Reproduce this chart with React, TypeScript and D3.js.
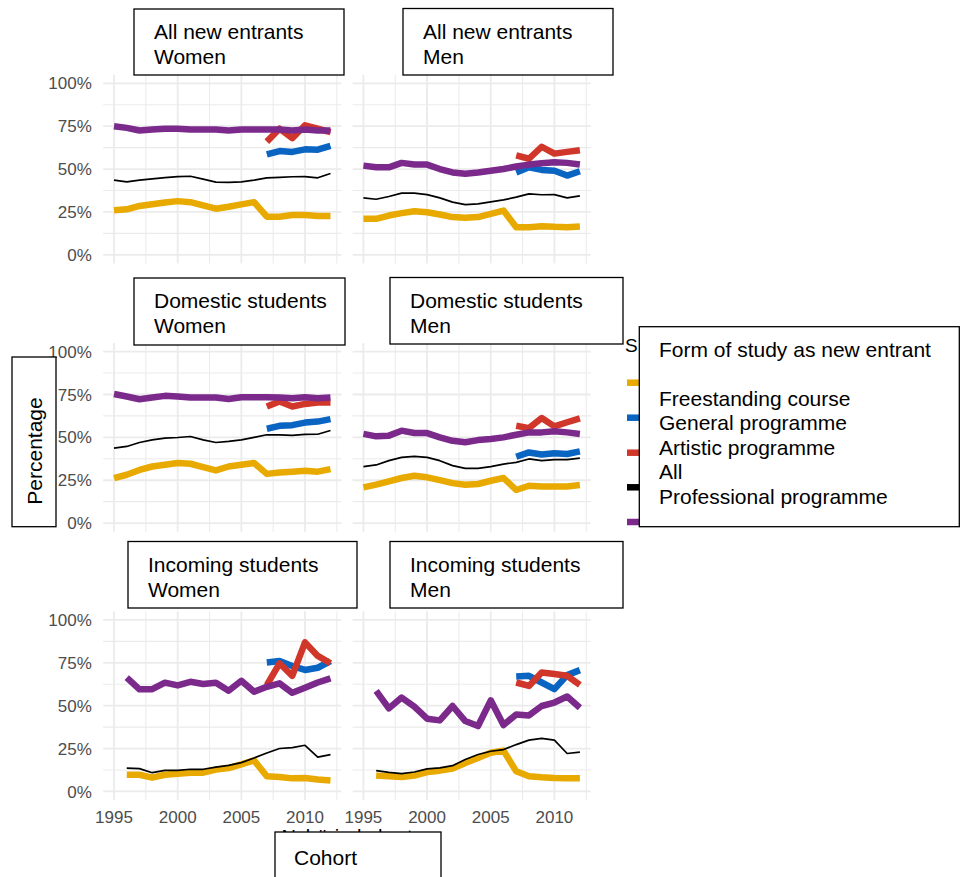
import React from "react";
import * as d3 from "d3";

// Cohort years on the x axis
const years = [1995, 1996, 1997, 1998, 1999, 2000, 2001, 2002, 2003, 2004, 2005, 2006, 2007, 2008, 2009, 2010, 2011, 2012];

const seriesNames = ["Freestanding course", "General programme", "Artistic programme", "All", "Professional programme"];
const seriesColors = ["#E8A900", "#0A64C2", "#D1362B", "#000000", "#7B2A8C"];
const seriesWidths = [6.5, 6.5, 6.5, 1.7, 6.5];

const xTicks = [1995, 2000, 2005, 2010];
const xMinor = [1997.5, 2002.5, 2007.5, 2012.5];
const yTicks = [0, 0.25, 0.5, 0.75, 1];
const yMinor = [0.125, 0.375, 0.625, 0.875];

const N = null;

// All new entrants – women
const allWomenFree = [0.26, 0.265, 0.285, 0.295, 0.305, 0.313, 0.307, 0.288, 0.269, 0.28, 0.294, 0.307, 0.222, 0.222, 0.232, 0.232, 0.226, 0.226];
const allWomenGeneral = [N, N, N, N, N, N, N, N, N, N, N, N, 0.585, 0.605, 0.6, 0.615, 0.613, 0.635];
const allWomenArtistic = [N, N, N, N, N, N, N, N, N, N, N, N, 0.66, 0.735, 0.68, 0.755, 0.735, 0.715];
const allWomenAll = [0.435, 0.425, 0.435, 0.443, 0.45, 0.456, 0.458, 0.441, 0.424, 0.422, 0.425, 0.435, 0.449, 0.452, 0.455, 0.456, 0.449, 0.474];
const allWomenProf = [0.75, 0.74, 0.725, 0.73, 0.735, 0.735, 0.73, 0.73, 0.73, 0.725, 0.73, 0.73, 0.73, 0.73, 0.725, 0.73, 0.725, 0.725];

// All new entrants – men
const allMenFree = [0.21, 0.21, 0.229, 0.243, 0.254, 0.248, 0.235, 0.22, 0.216, 0.22, 0.239, 0.258, 0.161, 0.161, 0.167, 0.163, 0.161, 0.165];
const allMenGeneral = [N, N, N, N, N, N, N, N, N, N, N, N, 0.48, 0.51, 0.495, 0.49, 0.462, 0.487];
const allMenArtistic = [N, N, N, N, N, N, N, N, N, N, N, N, 0.58, 0.56, 0.63, 0.59, 0.6, 0.61];
const allMenAll = [0.332, 0.324, 0.34, 0.36, 0.36, 0.351, 0.332, 0.307, 0.293, 0.297, 0.309, 0.32, 0.336, 0.355, 0.35, 0.351, 0.332, 0.344];
const allMenProf = [0.52, 0.51, 0.51, 0.536, 0.526, 0.526, 0.5, 0.48, 0.472, 0.48, 0.49, 0.5, 0.515, 0.526, 0.534, 0.54, 0.536, 0.526];

// Domestic students – women
const domWomenFree = [0.262, 0.282, 0.31, 0.33, 0.34, 0.35, 0.346, 0.326, 0.307, 0.33, 0.34, 0.35, 0.287, 0.295, 0.3, 0.305, 0.3, 0.315];
const domWomenGeneral = [N, N, N, N, N, N, N, N, N, N, N, N, 0.55, 0.567, 0.571, 0.586, 0.592, 0.606];
const domWomenArtistic = [N, N, N, N, N, N, N, N, N, N, N, N, 0.68, 0.709, 0.68, 0.695, 0.703, 0.703];
const domWomenAll = [0.437, 0.447, 0.47, 0.485, 0.495, 0.499, 0.505, 0.485, 0.47, 0.476, 0.485, 0.5, 0.515, 0.515, 0.511, 0.517, 0.518, 0.54];
const domWomenProf = [0.753, 0.738, 0.722, 0.732, 0.742, 0.738, 0.732, 0.732, 0.732, 0.724, 0.734, 0.734, 0.734, 0.732, 0.728, 0.734, 0.728, 0.732];

// Domestic students – men
const domMenFree = [0.208, 0.224, 0.243, 0.263, 0.276, 0.267, 0.251, 0.233, 0.224, 0.228, 0.247, 0.263, 0.193, 0.218, 0.214, 0.214, 0.214, 0.222];
const domMenGeneral = [N, N, N, N, N, N, N, N, N, N, N, N, 0.387, 0.412, 0.4, 0.407, 0.403, 0.418];
const domMenArtistic = [N, N, N, N, N, N, N, N, N, N, N, N, 0.568, 0.554, 0.613, 0.564, 0.588, 0.611];
const domMenAll = [0.329, 0.339, 0.364, 0.383, 0.389, 0.383, 0.364, 0.335, 0.319, 0.319, 0.329, 0.344, 0.354, 0.374, 0.364, 0.37, 0.37, 0.379];
const domMenProf = [0.52, 0.506, 0.51, 0.539, 0.525, 0.525, 0.5, 0.48, 0.471, 0.484, 0.49, 0.5, 0.515, 0.529, 0.529, 0.535, 0.529, 0.52];

// Incoming students – women
const incWomenFree = [N, 0.097, 0.097, 0.08, 0.097, 0.103, 0.109, 0.109, 0.127, 0.136, 0.158, 0.181, 0.088, 0.084, 0.076, 0.078, 0.07, 0.064];
const incWomenGeneral = [N, N, N, N, N, N, N, N, N, N, N, N, 0.752, 0.76, 0.731, 0.708, 0.721, 0.76];
const incWomenArtistic = [N, N, N, N, N, N, N, N, N, N, N, N, 0.62, 0.747, 0.674, 0.869, 0.79, 0.747];
const incWomenAll = [N, 0.136, 0.133, 0.109, 0.123, 0.123, 0.129, 0.129, 0.142, 0.152, 0.168, 0.195, 0.224, 0.25, 0.255, 0.269, 0.2, 0.214];
const incWomenProf = [N, 0.663, 0.595, 0.596, 0.634, 0.618, 0.639, 0.626, 0.634, 0.587, 0.645, 0.581, 0.61, 0.63, 0.575, 0.604, 0.635, 0.659];

// Incoming students – men
const incMenFree = [N, 0.092, 0.088, 0.084, 0.092, 0.113, 0.121, 0.133, 0.166, 0.195, 0.225, 0.238, 0.117, 0.088, 0.082, 0.078, 0.076, 0.076];
const incMenGeneral = [N, N, N, N, N, N, N, N, N, N, N, N, 0.67, 0.674, 0.635, 0.596, 0.678, 0.707];
const incMenArtistic = [N, N, N, N, N, N, N, N, N, N, N, N, 0.635, 0.615, 0.693, 0.684, 0.674, 0.621];
const incMenAll = [N, 0.121, 0.111, 0.104, 0.113, 0.131, 0.137, 0.15, 0.186, 0.215, 0.234, 0.244, 0.273, 0.299, 0.309, 0.299, 0.221, 0.229];
const incMenProf = [N, 0.586, 0.484, 0.547, 0.494, 0.424, 0.414, 0.498, 0.41, 0.381, 0.531, 0.387, 0.449, 0.443, 0.498, 0.518, 0.553, 0.488];

const panelTitles = [
  ["All new entrants", "Women"],
  ["All new entrants", "Men"],
  ["Domestic students", "Women"],
  ["Domestic students", "Men"],
  ["Incoming students", "Women"],
  ["Incoming students", "Men"],
];

const panelData = [
  [allWomenFree, allWomenGeneral, allWomenArtistic, allWomenAll, allWomenProf],
  [allMenFree, allMenGeneral, allMenArtistic, allMenAll, allMenProf],
  [domWomenFree, domWomenGeneral, domWomenArtistic, domWomenAll, domWomenProf],
  [domMenFree, domMenGeneral, domMenArtistic, domMenAll, domMenProf],
  [incWomenFree, incWomenGeneral, incWomenArtistic, incWomenAll, incWomenProf],
  [incMenFree, incMenGeneral, incMenArtistic, incMenAll, incMenProf],
];

const FONT = "'Liberation Sans', Arial, Helvetica, sans-serif";
const W = 966;
const H = 877;

// panel geometry (ggplot-like facet grid, 3 rows x 2 cols)
const colX = [
  [103.2, 341.3],
  [352.6, 590.7],
];
const rowZero = [254.8, 523.1, 791.4];
const unit = 171.5;

// overlay label boxes placed on the facet strips
const titleBoxes = [
  { x: 134, y: 9, w: 210, h: 66, tx: 154, ty: 38.5 },
  { x: 403, y: 8.5, w: 210, h: 66.5, tx: 423, ty: 38.5 },
  { x: 134, y: 278, w: 211, h: 67, tx: 154, ty: 308 },
  { x: 390, y: 277.5, w: 233, h: 66.5, tx: 410, ty: 307.5 },
  { x: 128, y: 541.5, w: 229, h: 66.5, tx: 148, ty: 571.5 },
  { x: 390, y: 541.5, w: 233, h: 66.5, tx: 410, ty: 571.5 },
];

const legendKeyY = [382.7, 417.7, 452.7, 487.3, 522];
const legendLines = ["Form of study as new entrant", "", ...seriesNames];

function Panel({ idx }: { idx: number }) {
  const col = idx % 2;
  const row = Math.floor(idx / 2);
  const x = d3.scaleLinear().domain([1994.15, 2012.85]).range(colX[col]);
  const y0 = rowZero[row];
  const y = d3.scaleLinear().domain([-0.05, 1.05]).range([y0 + 0.05 * unit, y0 - 1.05 * unit]);
  const [xl, xr] = x.range();
  const [yb, yt] = y.range();
  const fmt = d3.format(".0%");

  const line = d3
    .line<number | null>()
    .defined((d) => d != null)
    .x((_, i) => x(years[i]))
    .y((d) => y(d as number));

  return (
    <g>
      {yMinor.map((t) => (
        <line key={"ym" + t} x1={xl} x2={xr} y1={y(t)} y2={y(t)} stroke="#EBEBEB" strokeWidth={1.1} />
      ))}
      {xMinor.map((t) => (
        <line key={"xm" + t} x1={x(t)} x2={x(t)} y1={yb} y2={yt} stroke="#EBEBEB" strokeWidth={1.1} />
      ))}
      {yTicks.map((t) => (
        <line key={"y" + t} x1={xl} x2={xr} y1={y(t)} y2={y(t)} stroke="#EBEBEB" strokeWidth={1.8} />
      ))}
      {xTicks.map((t) => (
        <line key={"x" + t} x1={x(t)} x2={x(t)} y1={yb} y2={yt} stroke="#EBEBEB" strokeWidth={1.8} />
      ))}
      {panelData[idx].map((vals, s) => (
        <path
          key={s}
          d={line(vals) || ""}
          fill="none"
          stroke={seriesColors[s]}
          strokeWidth={seriesWidths[s]}
          strokeLinejoin="round"
          strokeLinecap="butt"
        />
      ))}
      {col === 0 &&
        yTicks.map((t) => (
          <text
            key={"yl" + t}
            x={91.8}
            y={y(t)}
            dy="0.36em"
            textAnchor="end"
            fontSize={17}
            fill="#4D4D4D"
            fontFamily={FONT}
          >
            {fmt(t)}
          </text>
        ))}
      {row === 2 &&
        xTicks.map((t) => (
          <text
            key={"xl" + t}
            x={x(t)}
            y={822.5}
            textAnchor="middle"
            fontSize={17}
            fill="#4D4D4D"
            fontFamily={FONT}
          >
            {t}
          </text>
        ))}
    </g>
  );
}

export default function App() {
  return (
    <svg
      width={W}
      height={H}
      viewBox={`0 0 ${W} ${H}`}
      style={{ position: "absolute", left: 0, top: 0, display: "block", background: "#fff" }}
    >
      <rect x={0} y={0} width={W} height={H} fill="#fff" />
      {panelData.map((_, i) => (
        <Panel key={i} idx={i} />
      ))}

      {/* base-plot x title, mostly covered by the Cohort box */}
      <text x={347} y={843.5} textAnchor="middle" fontSize={20} fontFamily={FONT} fill="#000">
        Nybörjarkohort
      </text>
      {/* base-plot legend title initial and legend keys */}
      <text x={625} y={351.5} fontSize={19} fontFamily={FONT} fill="#000">
        S
      </text>
      {legendKeyY.map((ky, i) => (
        <line key={"k" + i} x1={627} x2={645} y1={ky} y2={ky} stroke={seriesColors[i]} strokeWidth={6.5} />
      ))}

      {/* facet label boxes */}
      {titleBoxes.map((b, i) => (
        <g key={"tb" + i}>
          <rect x={b.x} y={b.y} width={b.w} height={b.h} fill="#fff" stroke="#000" strokeWidth={1.3} />
          <text x={b.tx} y={b.ty} fontSize={21} fontFamily={FONT} fill="#000">
            {panelTitles[i][0]}
          </text>
          <text x={b.tx} y={b.ty + 25} fontSize={21} fontFamily={FONT} fill="#000">
            {panelTitles[i][1]}
          </text>
        </g>
      ))}

      {/* legend box */}
      <rect x={639.3} y={326.7} width={320} height={200} fill="#fff" stroke="#000" strokeWidth={1.3} />
      {legendLines.map((t, i) => (
        <text key={"lg" + i} x={659} y={356.7 + i * 24.5} fontSize={21} fontFamily={FONT} fill="#000">
          {t}
        </text>
      ))}

      {/* y axis title box */}
      <rect x={12} y={357} width={44} height={169.7} fill="#fff" stroke="#000" strokeWidth={1.3} />
      <text transform="translate(41.5,451) rotate(-90)" textAnchor="middle" fontSize={21} fontFamily={FONT}>
        Percentage
      </text>

      {/* x axis title box */}
      <rect x={275} y={832} width={166} height={70} fill="#fff" stroke="#000" strokeWidth={1.3} />
      <text x={294} y={865} fontSize={21} fontFamily={FONT}>
        Cohort
      </text>
    </svg>
  );
}
